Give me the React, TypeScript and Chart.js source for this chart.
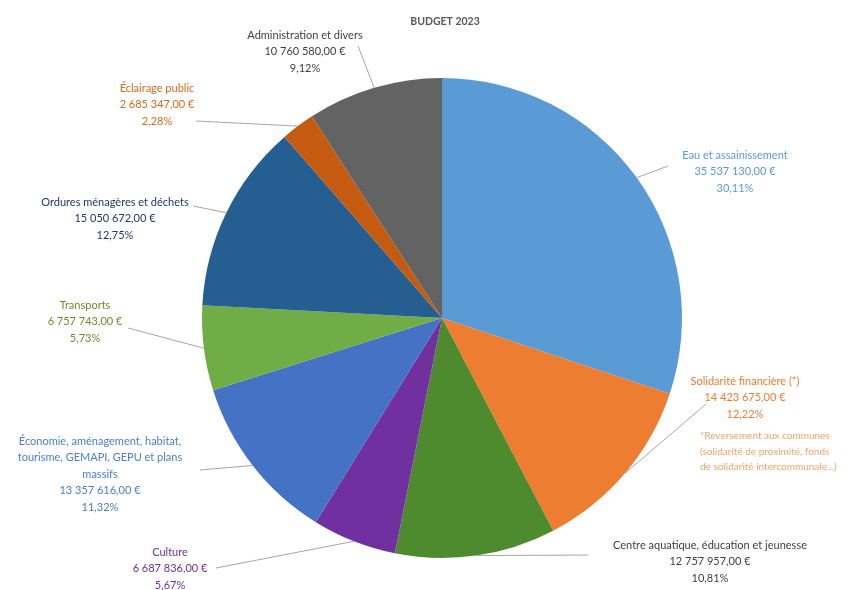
import React, { useEffect, useRef } from "react";
import { Chart, registerables } from "chart.js";

Chart.register(...registerables);

const TITLE = "BUDGET 2023";

const categories = [
  "Eau et assainissement",
  "Solidarité financière (*)",
  "Centre aquatique, éducation et jeunesse",
  "Culture",
  "Économie, aménagement, habitat, tourisme, GEMAPI, GEPU et plans massifs",
  "Transports",
  "Ordures ménagères et déchets",
  "Éclairage public",
  "Administration et divers",
];

const values = [
  35537130, 14423675, 12757957, 6687836, 13357616, 6757743, 15050672, 2685347,
  10760580,
];

const footnoteLines = [
  "*Reversement aux communes",
  "(solidarité de proximité, fonds",
  "de solidarité intercommunale...)",
];

const sliceColors = [
  "#5B9BD5",
  "#ED7D31",
  "#4E8A2E",
  "#7030A0",
  "#4472C4",
  "#70AD47",
  "#255E91",
  "#C55A11",
  "#636363",
];

const labelColors = [
  "#5B9BD5",
  "#ED7D31",
  "#3F3F3F",
  "#7030A0",
  "#4A7FC9",
  "#6E8B2E",
  "#1F3864",
  "#D46A1E",
  "#404040",
];

// layout: label centre x, first line y, wrap width, leader start point
const labelLayout = [
  { x: 735, y: 155, w: 200, lx: 668, ly: 166 },
  { x: 745, y: 381, w: 200, lx: 706, ly: 404 },
  { x: 710, y: 545, w: 260, lx: 588, ly: 555 },
  { x: 170, y: 552, w: 150, lx: 216, ly: 568 },
  { x: 100, y: 441, w: 185, lx: 200, ly: 470 },
  { x: 85, y: 305, w: 150, lx: 128, ly: 328 },
  { x: 115, y: 202, w: 170, lx: 193, ly: 206 },
  { x: 157, y: 88, w: 150, lx: 196, ly: 121 },
  { x: 305, y: 35, w: 170, lx: 358, ly: 46 },
];

const FONT = "Lato, 'Open Sans', sans-serif";

function fmtEuro(v: number): string {
  const s = Math.round(v).toString().replace(/\B(?=(\d{3})+(?!\d))/g, " ");
  return s + ",00 €";
}

function wrap(ctx: CanvasRenderingContext2D, text: string, w: number): string[] {
  const words = text.split(" ");
  const lines: string[] = [];
  let cur = "";
  for (const word of words) {
    const t = cur ? cur + " " + word : word;
    if (ctx.measureText(t).width > w && cur) {
      lines.push(cur);
      cur = word;
    } else cur = t;
  }
  if (cur) lines.push(cur);
  return lines;
}

const labelPlugin = {
  id: "budgetLabels",
  afterDatasetsDraw(chart: any) {
    const ctx: CanvasRenderingContext2D = chart.ctx;
    const meta = chart.getDatasetMeta(0);
    const total = values.reduce((a, b) => a + b, 0);
    ctx.save();
    ctx.font = `bold 10.5px ${FONT}`;
    ctx.fillStyle = "#595959";
    ctx.textAlign = "center";
    ctx.textBaseline = "middle";
    ctx.fillText(TITLE, 445, 22);

    meta.data.forEach((arc: any, i: number) => {
      const L = labelLayout[i];
      const p = arc.getProps(["x", "y", "startAngle", "endAngle", "outerRadius"], true);
      const mid = (p.startAngle + p.endAngle) / 2;
      const ax = p.x + Math.cos(mid) * p.outerRadius;
      const ay = p.y + Math.sin(mid) * p.outerRadius;
      ctx.strokeStyle = "#A6A6A6";
      ctx.lineWidth = 1;
      ctx.beginPath();
      ctx.moveTo(L.lx, L.ly);
      ctx.lineTo(ax, ay);
      ctx.stroke();

      ctx.font = `11px ${FONT}`;
      ctx.fillStyle = labelColors[i];
      ctx.textAlign = "center";
      const lines = wrap(ctx, categories[i], L.w);
      lines.push(fmtEuro(values[i]));
      lines.push(((values[i] / total) * 100).toFixed(2).replace(".", ",") + "%");
      lines.forEach((ln, k) => ctx.fillText(ln, L.x, L.y + k * 16.5));

      if (i === 1) {
        ctx.font = `10px ${FONT}`;
        ctx.fillStyle = "#F0A36A";
        ctx.textAlign = "left";
        footnoteLines.forEach((ln, k) => ctx.fillText(ln, 700, 436 + k * 15.5));
      }
    });
    ctx.restore();
  },
};

export default function App() {
  const ref = useRef<HTMLCanvasElement | null>(null);
  useEffect(() => {
    if (!ref.current) return;
    const chart = new Chart(ref.current, {
      type: "pie",
      data: {
        labels: categories,
        datasets: [
          {
            data: values,
            backgroundColor: sliceColors,
            borderWidth: 0,
          },
        ],
      },
      options: {
        animation: false,
        responsive: false,
        maintainAspectRatio: false,
        layout: { padding: { top: 78, bottom: 32, left: 202, right: 177 } },
        plugins: {
          legend: { display: false },
          tooltip: { enabled: false },
          title: { display: false },
        },
      },
      plugins: [labelPlugin],
    });
    return () => chart.destroy();
  }, []);
  return (
    <div style={{ position: "fixed", left: 0, top: 0, width: 859, height: 590, background: "#fff" }}>
      <canvas ref={ref} width={859} height={590} style={{ width: 859, height: 590 }} />
    </div>
  );
}
